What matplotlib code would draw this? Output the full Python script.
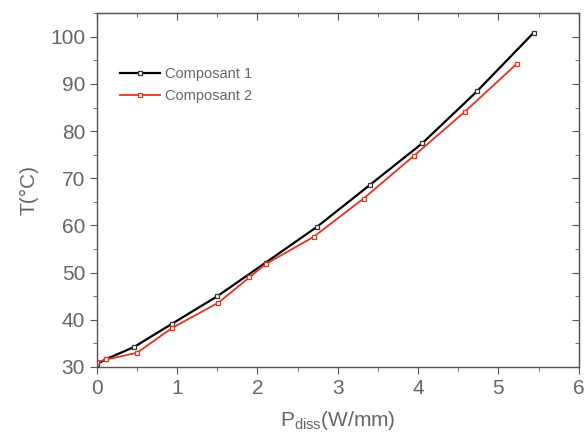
import matplotlib
matplotlib.use("Agg")
import matplotlib.pyplot as plt
from matplotlib.ticker import MultipleLocator

plt.rcParams['font.family'] = ['Liberation Sans', 'DejaVu Sans']
plt.rcParams['mathtext.fontset'] = 'custom'
plt.rcParams['mathtext.rm'] = 'Liberation Sans'

# Data
p1 = [0.0, 0.12, 0.46, 0.93, 1.50, 2.10, 2.74, 3.40, 4.05, 4.73, 5.44]
t1 = [30.6, 31.7, 34.2, 39.1, 45.0, 52.1, 59.7, 68.6, 77.4, 88.4, 100.9]
p2 = [0.0, 0.12, 0.50, 0.94, 1.51, 1.90, 2.10, 2.70, 3.32, 3.95, 4.58, 5.23]
t2 = [31.0, 31.6, 33.0, 38.3, 43.6, 49.0, 51.8, 57.6, 65.7, 74.8, 84.1, 94.3]
labels = ['Composant 1', 'Composant 2']

fig = plt.figure(figsize=(5.87, 4.40), dpi=100)
ax = fig.add_axes([0.165, 0.166, 0.821, 0.804])

ax.plot(p1, t1, color='black', lw=1.6, marker='s', ms=3.5, mfc='white', mec='#333333', mew=0.9, label=labels[0])
ax.plot(p2, t2, color='#e8321e', lw=1.3, marker='s', ms=3.5, mfc='white', mec='#e8321e', mew=0.9, label=labels[1])

ax.set_xlim(0, 6)
ax.set_ylim(30, 105)
ax.xaxis.set_major_locator(MultipleLocator(1))
ax.xaxis.set_minor_locator(MultipleLocator(0.5))
ax.yaxis.set_major_locator(MultipleLocator(10))
ax.yaxis.set_minor_locator(MultipleLocator(5))

gray = '#666666'
for s in ax.spines.values():
    s.set_color('#555555')
    s.set_linewidth(1.0)

ax.tick_params(which='both', direction='out', colors='#555555', labelcolor=gray, labelsize=15,
               top=False, right=False)
ax.tick_params(which='major', length=5)
ax.tick_params(which='minor', length=3)

# mirrored inward ticks on top/right
ax2 = ax.secondary_xaxis('top')
ax2.xaxis.set_major_locator(MultipleLocator(1))
ax2.xaxis.set_minor_locator(MultipleLocator(0.5))
ax2.tick_params(which='both', direction='in', colors='#555555', labeltop=False)
ax2.tick_params(which='major', length=5)
ax2.tick_params(which='minor', length=3)
ax2.spines['top'].set_color('#555555')
ax3 = ax.secondary_yaxis('right')
ax3.yaxis.set_major_locator(MultipleLocator(10))
ax3.yaxis.set_minor_locator(MultipleLocator(5))
ax3.tick_params(which='both', direction='in', colors='#555555', labelright=False)
ax3.tick_params(which='major', length=5)
ax3.tick_params(which='minor', length=3)
ax3.spines['right'].set_color('#555555')

ax.set_ylabel('T(°C)', fontsize=15, color=gray, labelpad=8)
ax.set_xlabel(r'P$_{\mathregular{diss}}$(W/mm)', fontsize=15, color=gray, labelpad=8)

leg = ax.legend(loc='upper left', bbox_to_anchor=(0.02, 0.885), frameon=False, fontsize=10.5,
                handlelength=2.8, handletextpad=0.3, labelspacing=0.55, labelcolor=gray)

fig.savefig('out.png', dpi=100)
